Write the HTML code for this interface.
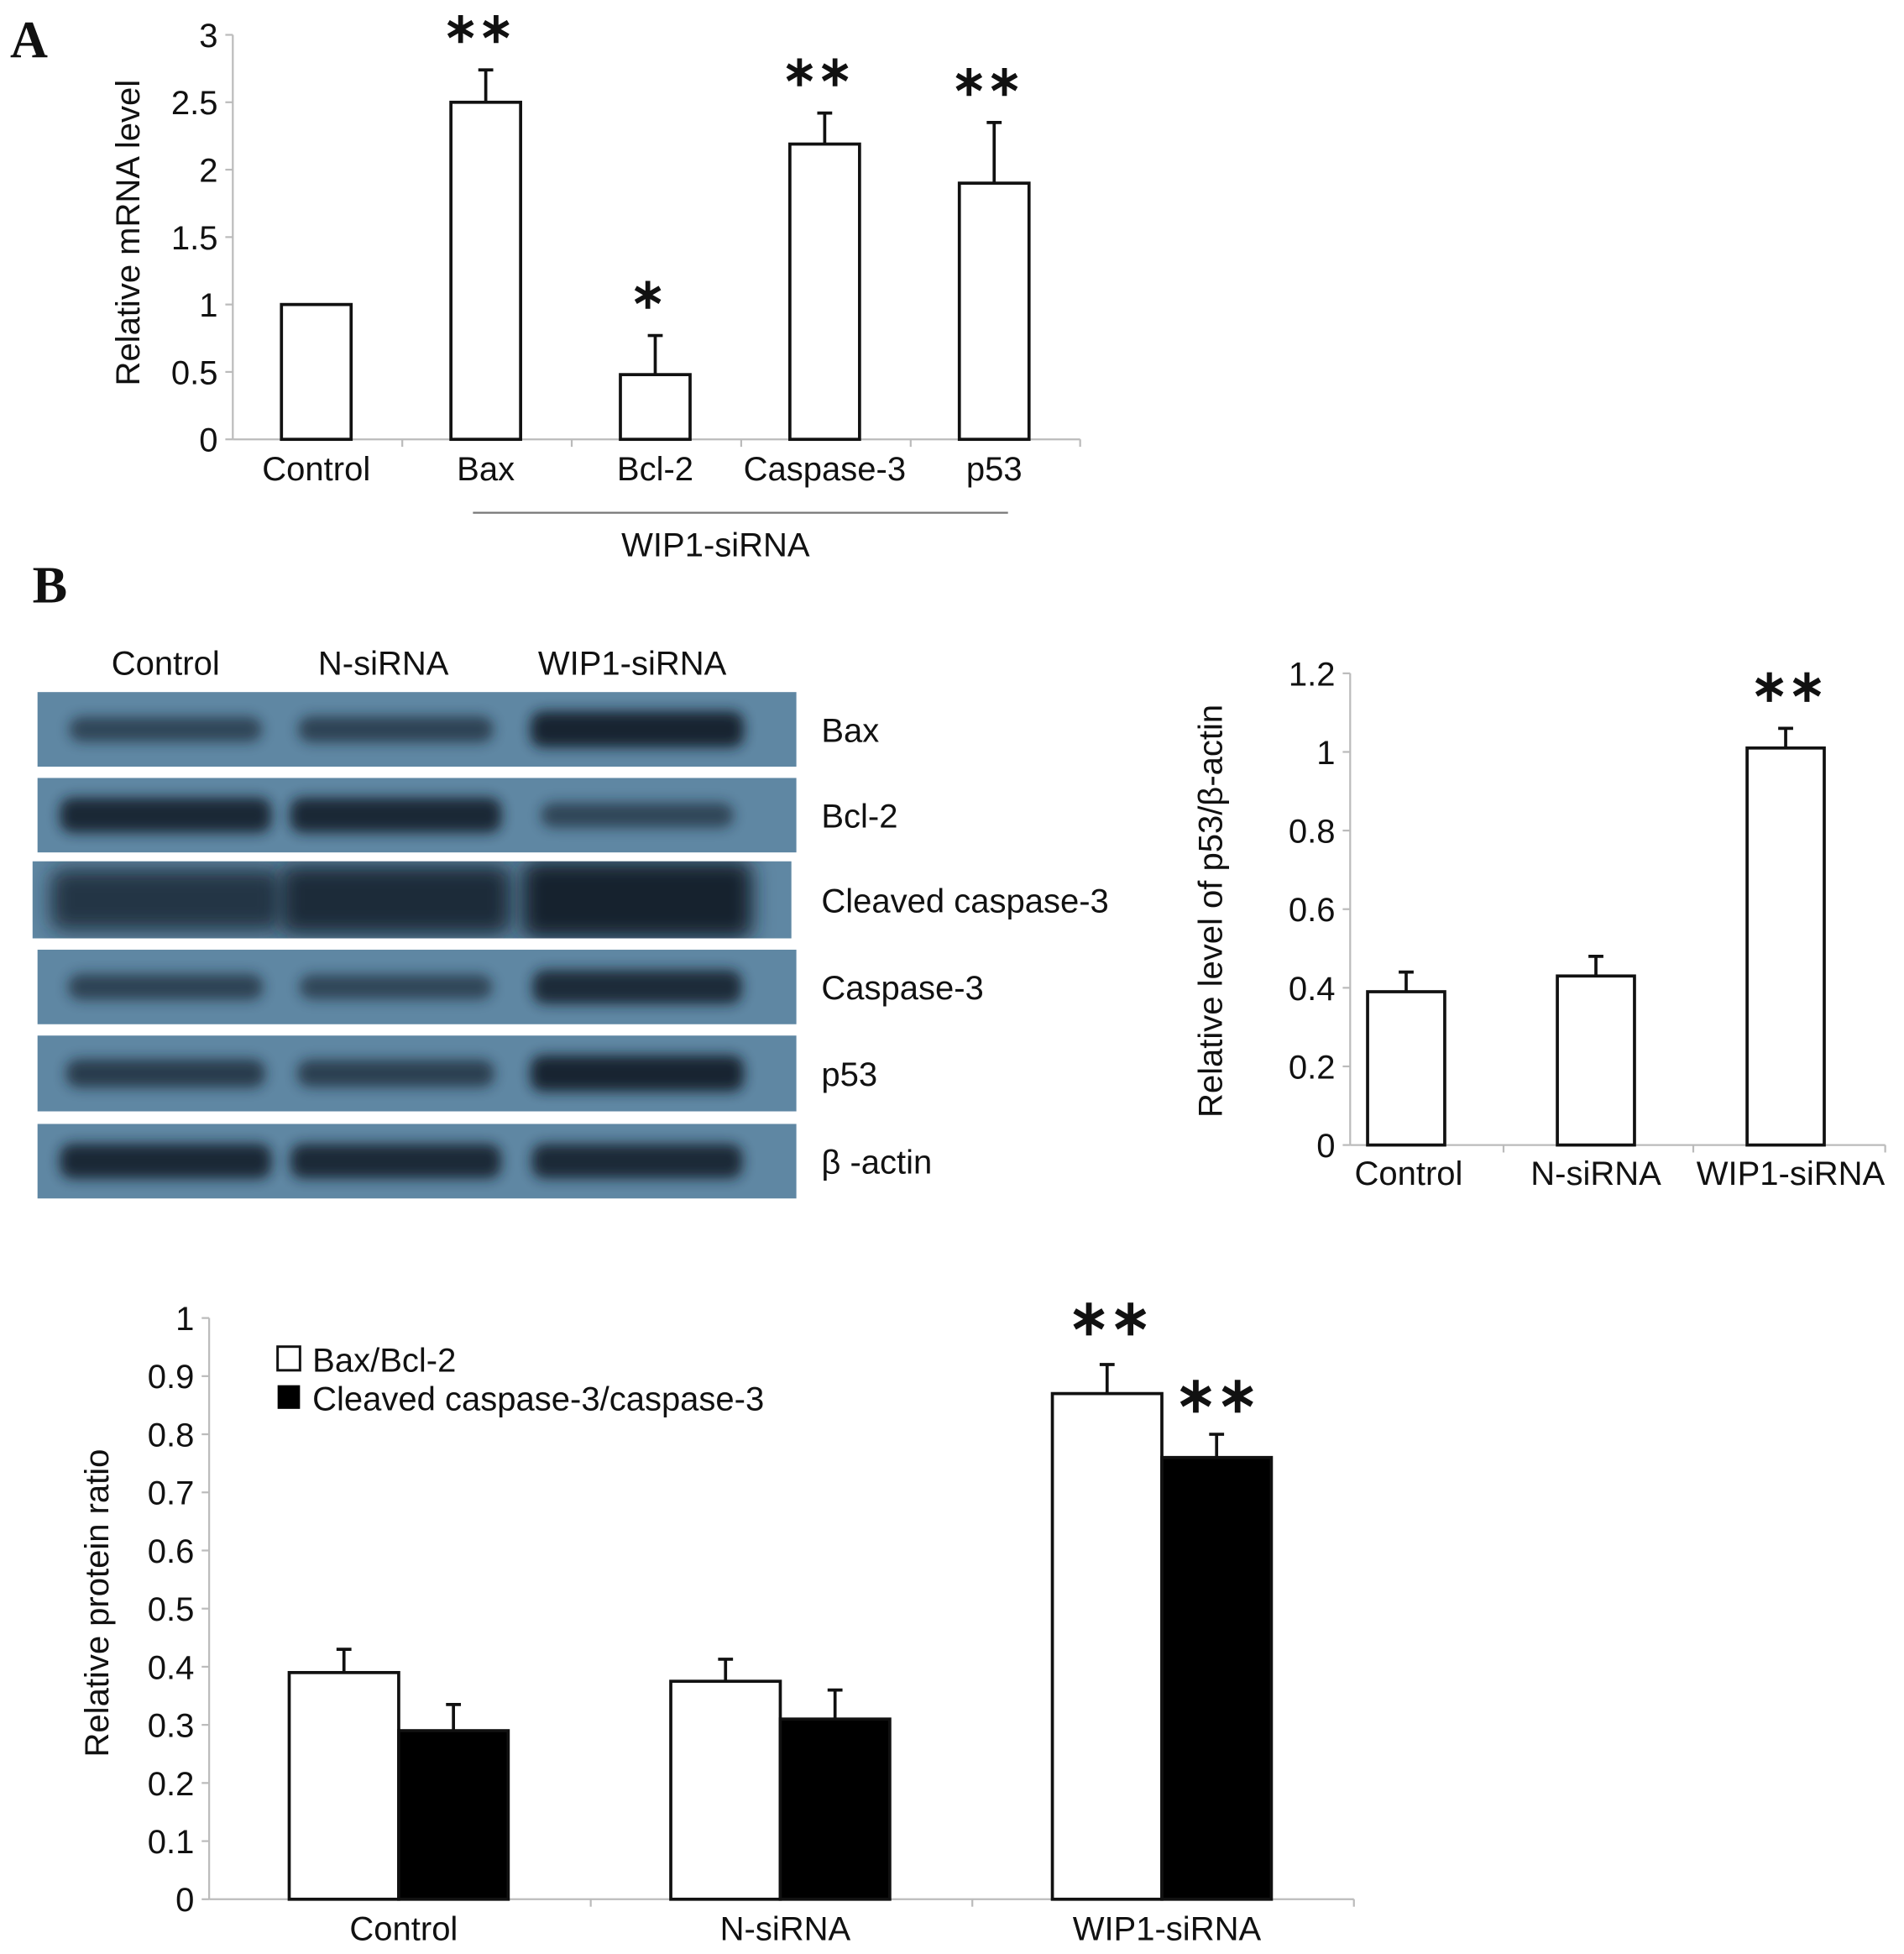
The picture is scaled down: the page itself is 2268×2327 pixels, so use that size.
<!DOCTYPE html>
<html><head><meta charset="utf-8">
<style>
html,body{margin:0;padding:0;background:#fff;}
svg{display:block;}
text{font-family:"Liberation Sans",sans-serif;fill:#111;}
</style></head>
<body>
<svg id="fig" width="2268" height="2327" viewBox="0 0 1530 1570" xmlns="http://www.w3.org/2000/svg">
<defs>
<filter id="blur" x="-20%" y="-80%" width="140%" height="260%"><feGaussianBlur stdDeviation="5"/></filter>
<filter id="blur2" x="-20%" y="-50%" width="140%" height="200%"><feGaussianBlur stdDeviation="8"/></filter>
</defs>
<text x="8" y="46" style="font-family:'Liberation Serif',serif;font-weight:bold;font-size:42px">A</text>
<text x="26" y="484" style="font-family:'Liberation Serif',serif;font-weight:bold;font-size:42px">B</text>
<g id="chartA"></g>
<g id="blots"></g>
<g id="chartP"></g>
<g id="chartC"></g>
</svg>
<script>
// Chart A data
const aCategories = ["Control","Bax","Bcl-2","Caspase-3","p53"];
const aValues = [1, 2.5, 0.48, 2.19, 1.9];
const aErrors = [0, 0.24, 0.29, 0.23, 0.45];
const aStars = ["", "**", "*", "**", "**"];
const aTicks = ["0","0.5","1","1.5","2","2.5","3"];
// p53 chart data
const pCategories = ["Control","N-siRNA","WIP1-siRNA"];
const pValues = [0.39, 0.43, 1.01];
const pErrors = [0.05, 0.05, 0.05];
const pStars = ["", "", "**"];
const pTicks = ["0","0.2","0.4","0.6","0.8","1","1.2"];
// Protein ratio chart data
const cCategories = ["Control","N-siRNA","WIP1-siRNA"];
const cBaxBcl = [0.39, 0.375, 0.87];
const cBaxBclErr = [0.04, 0.038, 0.05];
const cCleaved = [0.29, 0.31, 0.76];
const cCleavedErr = [0.045, 0.05, 0.04];
const cStarsWhite = ["", "", "**"];
const cStarsBlack = ["", "", "**"];
const cTicks = ["0","0.1","0.2","0.3","0.4","0.5","0.6","0.7","0.8","0.9","1"];
// Blot data: band intensity (0..1) per lane
const blotRows = ["Bax","Bcl-2","Cleaved caspase-3","Caspase-3","p53","β -actin"];
const blotLanes = ["Control","N-siRNA","WIP1-siRNA"];
const blotIntensity = [[0.45,0.5,0.95],[0.9,0.9,0.45],[0.7,0.85,1],[0.5,0.45,0.85],[0.6,0.55,0.95],[0.9,0.88,0.88]];

const NS="http://www.w3.org/2000/svg";
const FS=27;
function mk(parent,tag,attrs,txt){const e=document.createElementNS(NS,tag);for(const k in attrs)e.setAttribute(k,attrs[k]);if(txt!==undefined)e.textContent=txt;parent.appendChild(e);return e;}

function axes(g,x0,x1,y0,y1,tickLabels,maxV,fs,bounds){
  const ys=v=>y0-(v/maxV)*(y0-y1);
  let l=mk(g,'line',{x1:x0,y1:y0,x2:x0,y2:y1,stroke:'#bbb','stroke-width':1.5});
  
  l=mk(g,'line',{x1:x0,y1:y0,x2:x1,y2:y0,stroke:'#bbb','stroke-width':1.5});
  
  tickLabels.forEach(t=>{const v=parseFloat(t);const y=ys(v);
    mk(g,'line',{x1:x0-6,y1:y,x2:x0,y2:y,stroke:'#bbb','stroke-width':1.5});
    const tx=mk(g,'text',{x:x0-12,y:y+fs*0.36,'text-anchor':'end','font-size':fs},t);
    
  });
  bounds.forEach(bx=>mk(g,'line',{x1:bx,y1:y0,x2:bx,y2:y0+6,stroke:'#bbb','stroke-width':1.5}));
  return ys;
}
function bar(g,x,w,v,e,ys,fill,name){
  const r=mk(g,'rect',{x:x,y:ys(v),width:w,height:ys(0)-ys(v),fill:fill,stroke:'#111','stroke-width':2.5});
  
  if(e>0){const cx=x+w/2;
    const l=mk(g,'path',{d:`M${cx},${ys(v)}V${ys(v+e)}M${cx-6},${ys(v+e)}H${cx+6}`,stroke:'#111','stroke-width':2.5,fill:'none'});
    }
}
function star(g,x,y,s,fs){if(!s)return;const t=mk(g,'text',{x:x,y:y,'text-anchor':'middle','font-size':fs,'font-weight':'bold'},s.replace(/\*/g,'∗'));
  }

// Chart A
(function(){
  const g=document.getElementById('chartA');
  const x0=187,x1=868,y0=353,y1=28;
  const w=(x1-x0)/aCategories.length;
  const ys=axes(g,x0,x1,y0,y1,aTicks,3,FS,[1,2,3,4,5].map(i=>x0+i*w));
  aCategories.forEach((c,i)=>{const cx=x0+w*(i+0.5)-1;
    bar(g,cx-28,56,aValues[i],aErrors[i],ys,'#fff','bar-'+c.toLowerCase());
    star(g,cx-6,ys(aValues[i]+aErrors[i])-22,aStars[i],34);
    const t=mk(g,'text',{x:cx,y:386,'text-anchor':'middle','font-size':FS},c);
    
  });
  const ln=mk(g,'line',{x1:380,y1:412,x2:810,y2:412,stroke:'#777','stroke-width':1.5});
  
  let t=mk(g,'text',{x:575,y:447,'text-anchor':'middle','font-size':FS},'WIP1-siRNA');
  
  t=mk(g,'text',{x:0,y:0,'text-anchor':'middle','font-size':FS,transform:'translate(112,187) rotate(-90)'},'Relative mRNA level');
  
})();

// Blots
(function(){
  const g=document.getElementById('blots');
  const defs=document.querySelector('defs');
  const rows=[[30,556,610,60],[30,625,610,60],[26,692,610,62],[30,763,610,60],[30,832,610,61],[30,903,610,60]];
  const laneX=[133,318,512];
  blotLanes.forEach((l,i)=>{const t=mk(g,'text',{x:[133,308,508][i],y:542,'text-anchor':'middle','font-size':FS},l);
    });
  blotRows.forEach((name,r)=>{const [x,y,w,h]=rows[r];
    const cp=mk(defs,'clipPath',{id:'cp'+r});mk(cp,'rect',{x:x,y:y,width:w,height:h});
    const sg=mk(g,'g',{'clip-path':'url(#cp'+r+')'});
    const rc=mk(sg,'rect',{x:x,y:y,width:w,height:h,fill:'#5f87a3'});
    
    blotIntensity[r].forEach((v,j)=>{
      const bw=r===2?185:165*(0.85+0.2*v), bh=r===2?22+40*v:12+18*v;
      const op=0.35+0.65*v;
      const e=mk(sg,'rect',{x:laneX[j]-bw/2,y:y+h/2-bh/2,width:bw,height:bh,rx:10,fill:'#17222d',opacity:op,filter:r===2?'url(#blur2)':'url(#blur)'});
      
    });
    const t=mk(g,'text',{x:660,y:y+h/2+10,'font-size':FS},name);
    
  });
})();

// p53 chart
(function(){
  const g=document.getElementById('chartP');
  const x0=1085,x1=1515,y0=920,y1=541;
  const c0=1130,step=152.5;
  const ys=axes(g,x0,x1,y0,y1,pTicks,1.2,FS,[c0+step*0.5+2,c0+step*1.5+2,x1]);
  pCategories.forEach((c,i)=>{const cx=c0+step*i;
    bar(g,cx-31,62,pValues[i],pErrors[i],ys,'#fff','bar-'+c.toLowerCase());
    star(g,cx+2,ys(pValues[i]+pErrors[i])-22,pStars[i],36);
    const t=mk(g,'text',{x:cx+[2,0,4][i],y:952,'text-anchor':'middle','font-size':FS},c);
    
  });
  const t=mk(g,'text',{x:0,y:0,'text-anchor':'middle','font-size':FS,transform:'translate(982,732) rotate(-90)'},'Relative level of p53/β-actin');
  
})();

// Protein ratio chart
(function(){
  const g=document.getElementById('chartC');
  const x0=168,x1=1088,y0=1526,y1=1059;
  const w=(x1-x0)/cCategories.length;
  const ys=axes(g,x0,x1,y0,y1,cTicks,1,FS,[1,2,3].map(i=>x0+i*w));
  cCategories.forEach((c,i)=>{const cx=x0+w*(i+0.5)-1;
    bar(g,cx-88,88,cBaxBcl[i],cBaxBclErr[i],ys,'#fff','bar-bax-bcl2-'+c.toLowerCase());
    bar(g,cx,88,cCleaved[i],cCleavedErr[i],ys,'#000','bar-cleaved-casp3-'+c.toLowerCase());
    star(g,cx-42,ys(cBaxBcl[i]+cBaxBclErr[i])-24,cStarsWhite[i],40);
    star(g,cx+44,ys(cCleaved[i]+cCleavedErr[i])-18,cStarsBlack[i],40);
    const t=mk(g,'text',{x:cx+4,y:1559,'text-anchor':'middle','font-size':FS},c);
    
  });
  let r=mk(g,'rect',{x:223,y:1082,width:18,height:19,fill:'#fff',stroke:'#111','stroke-width':2});
  
  let t=mk(g,'text',{x:251,y:1102,'font-size':FS},'Bax/Bcl-2');
  
  r=mk(g,'rect',{x:223,y:1113,width:18,height:19,fill:'#000'});
  
  t=mk(g,'text',{x:251,y:1133,'font-size':FS},'Cleaved caspase-3/caspase-3');
  
  t=mk(g,'text',{x:0,y:0,'text-anchor':'middle','font-size':FS,transform:'translate(87,1288) rotate(-90)'},'Relative protein ratio');
  
})();
</script>
</body></html>
